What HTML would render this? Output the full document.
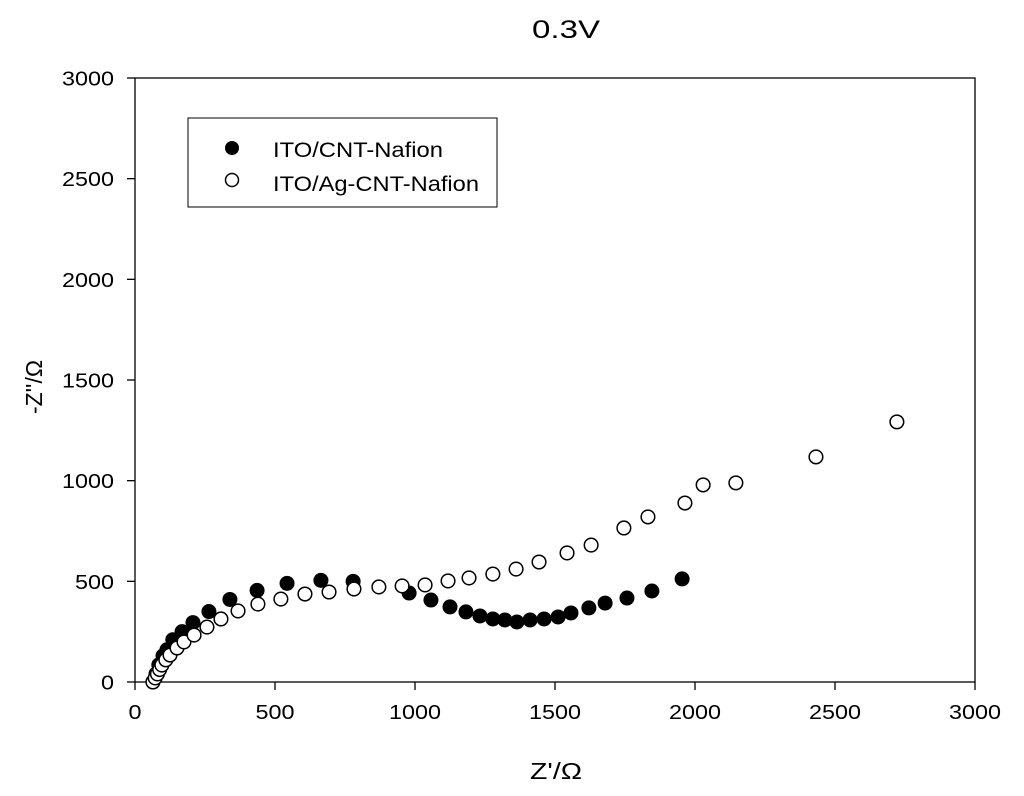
<!DOCTYPE html>
<html><head><meta charset="utf-8"><style>
body{margin:0;background:#fff;font-family:"Liberation Sans",sans-serif}
</style></head><body>
<svg id="chart" width="1024" height="791" xmlns="http://www.w3.org/2000/svg" font-family="Liberation Sans, sans-serif">
<text x="532" y="38" font-size="25" textLength="68" lengthAdjust="spacingAndGlyphs">0.3V</text>
<rect x="135" y="78" width="840" height="604" fill="none" stroke="#000" stroke-width="1.3"/>
<g id="axes"></g>
<text x="530" y="779" font-size="23" textLength="52" lengthAdjust="spacingAndGlyphs">Z'/Ω</text>
<text x="42" y="387" font-size="23" text-anchor="middle" transform="rotate(-90 42 387)">-Z''/Ω</text>
<g id="series"></g>
<g>
<rect x="188" y="118" width="309" height="89" fill="#fff" stroke="#000" stroke-width="1"/>
<circle cx="232" cy="148" r="7" fill="#000"/>
<text x="273" y="157" font-size="21" textLength="170" lengthAdjust="spacingAndGlyphs">ITO/CNT-Nafion</text>
<circle cx="232" cy="180" r="6.5" fill="#fff" stroke="#000" stroke-width="1.5"/>
<text x="273" y="191" font-size="21" textLength="206" lengthAdjust="spacingAndGlyphs">ITO/Ag-CNT-Nafion</text>
</g>
</svg>
<script>
const xTicks=[0,500,1000,1500,2000,2500,3000];
const yTicks=[0,500,1000,1500,2000,2500,3000];
const filledX=[64,75,85,100,114,135,168,207,264,339,436,543,664,779,979,1057,1125,1182,1232,1278,1321,1364,1411,1461,1511,1557,1621,1679,1757,1846,1954];
const filledY=[0,40,85,130,160,210,250,295,350,410,455,490,505,500,442,407,373,348,328,313,308,298,308,313,323,343,368,392,417,452,512];
const openX=[64,72,80,88,96,110,125,150,175,211,257,307,368,439,521,607,693,782,871,954,1036,1118,1193,1278,1361,1443,1543,1629,1746,1832,1964,2029,2146,2432,2721];
const openY=[0,20,40,62,84,110,134,169,199,233,273,313,353,387,412,437,447,462,472,477,482,502,517,536,561,596,641,680,765,820,889,979,989,1118,1292];
const NS='http://www.w3.org/2000/svg';
const sx=v=>135+v*840/3000, sy=v=>682-v*604/3000;
const axes=document.getElementById('axes'), ser=document.getElementById('series');
function mk(t,a,p){const e=document.createElementNS(NS,t);for(const k in a)e.setAttribute(k,a[k]);p.appendChild(e);return e;}
const tw=v=>String(v).length*13;
xTicks.forEach(v=>{
 const l=mk('line',{x1:sx(v),x2:sx(v),y1:682,y2:690,stroke:'#000','stroke-width':1.3},axes);
 
 
 const t=mk('text',{x:sx(v)-tw(v)/2,y:719,'font-size':20,textLength:tw(v),lengthAdjust:'spacingAndGlyphs'},axes);t.textContent=v;
 
 
});
yTicks.forEach(v=>{
 const l=mk('line',{x1:127,x2:135,y1:sy(v),y2:sy(v),stroke:'#000','stroke-width':1.3},axes);
 
 
 const t=mk('text',{x:114-tw(v),y:sy(v)+7.5,'font-size':20,textLength:tw(v),lengthAdjust:'spacingAndGlyphs'},axes);t.textContent=v;
 
 
});
filledX.forEach((v,i)=>{
 const c=mk('circle',{cx:sx(v),cy:sy(filledY[i]),r:7.5,fill:'#000'},ser);
 
 
});
openX.forEach((v,i)=>{
 const c=mk('circle',{cx:sx(v),cy:sy(openY[i]),r:6.8,fill:'#fff',stroke:'#000','stroke-width':1.5},ser);
 
 
});
</script>
</body></html>
